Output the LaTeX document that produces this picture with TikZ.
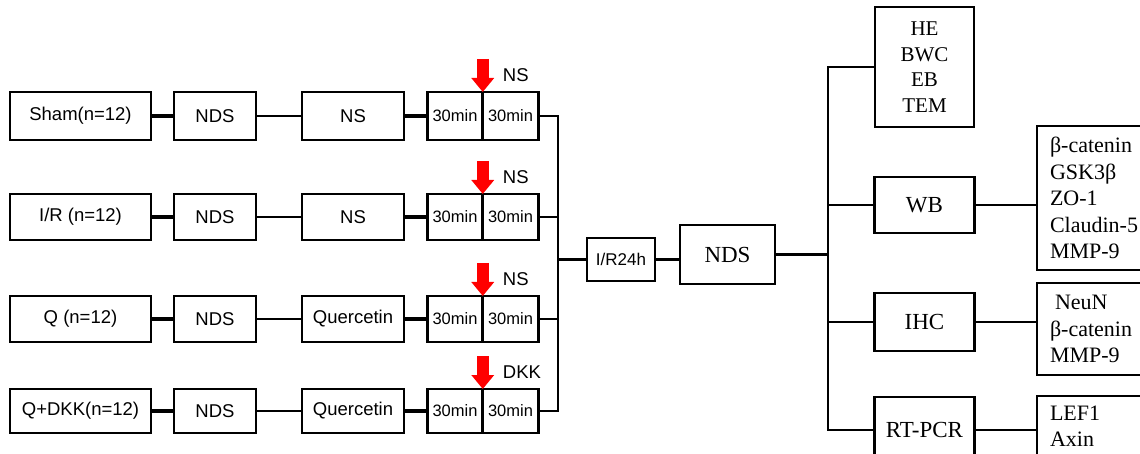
\documentclass[tikz,border=0pt]{standalone}
\usepackage{fontspec}
\setmainfont{Liberation Serif}
\setsansfont{Liberation Sans}
\usetikzlibrary{positioning,arrows.meta}
\begin{document}
\begin{tikzpicture}
      [x=1pt,y=-1pt,
       box/.style={draw,line width=2.6pt,outer sep=0pt,inner sep=0pt,align=center},
       lbl/.style={font=\sffamily\fontsize{18.5}{21}\selectfont},
       half/.style={box,minimum width=55.5pt,font=\sffamily\fontsize{16.5}{19}\selectfont},
       res/.style={box,minimum width=100pt,font=\fontsize{23}{26}\selectfont},
       sub/.style={box,anchor=north west,align=left,text width=100pt,inner xsep=13pt,
         font=\fontsize{22}{26.5}\selectfont},
       wide/.style={line width=3.3pt},
       slim/.style={line width=1.8pt},
       link/.style={line width=2.3pt},
       inj/.style={red,line width=12pt,-{Triangle[width=22pt,length=14pt]}}]
      \useasboundingbox (0,0) rectangle (1140,454);
      \foreach \r/\y/\h/\g/\d/\i in {1/116/48/{Sham(n=12)}/NS/NS,
        2/217/46/{I/R (n=12)}/NS/NS, 3/319/46/{Q (n=12)}/Quercetin/NS,
        4/411/44/{Q+DKK(n=12)}/Quercetin/DKK} {
        \node[box,lbl,minimum width=141pt,minimum height=\h pt] (g\r) at (80.5,\y) {\g};
        \node[box,lbl,minimum width=82pt,minimum height=\h pt] (n\r) at (215,\y) {NDS};
        \node[box,lbl,minimum width=102pt,minimum height=\h pt] (d\r) at (353,\y) {\d};
        \node[half,minimum height=\h pt] (tl\r) at (455,\y) {30min};
        \node[half,minimum height=\h pt,right=0pt of tl\r] (tr\r) {30min};
        \coordinate (b\r) at (558,\y);
        \draw[wide] (g\r) -- (n\r);
        \draw[slim] (n\r) -- (d\r);
        \draw[wide] (d\r) -- (tl\r);
        \draw[inj] ([yshift=33pt]tl\r.north east) -- (tl\r.north east);
        \node[lbl,inner sep=0pt,anchor=west] (a\r) at ([xshift=20pt,yshift=17pt]tl\r.north east) {\i};
      }
      \draw[link] (tr1) -- (b1) -- (b4) -- (tr4);
      \draw[link] (tr2) -- (b2);
      \draw[link] (tr3) -- (b3);

      \node[box,font=\sffamily\fontsize{17}{19}\selectfont,minimum width=68pt,minimum height=43pt]
        (ir) at (621,259.5) {I/R24h};
      \node[res,minimum width=95pt,minimum height=59pt] (nd) at (727.5,254.5) {NDS};
      \coordinate (bm) at (558,259.5);
      \coordinate (br) at (828,254.5);
      \draw[link] (bm) -- (ir);
      \draw[link] (ir) -- (ir -| nd.west);
      \draw[link] (nd) -- (br);

      \node[box,minimum width=99pt,minimum height=120pt,font=\fontsize{21}{25.5}\selectfont]
        (he) at (924.5,67) {HE\\BWC\\EB\\TEM};
      \node[res,minimum height=56pt] (wb) at (924.5,205) {WB};
      \node[res,minimum height=58pt] (ihc) at (924.5,322) {IHC};
      \node[res,minimum height=66pt] (pcr) at (924.5,430) {RT-PCR};
      \draw[link] (he.west) -- (he.west -| br) -- (pcr.west -| br) -- (pcr.west);
      \draw[link] (wb) -- (wb -| br);
      \draw[link] (ihc) -- (ihc -| br);

      \node[sub,minimum height=144pt] (wbm) at (1037,126)
        {β-catenin\\GSK3β\\ZO-1\\Claudin-5\\MMP-9};
      \node[sub,minimum height=92pt] (ihcm) at (1037,283)
        {\hspace*{5pt}NeuN\\β-catenin\\MMP-9};
      \node[sub,minimum height=60pt] (pcrm) at (1037,396) {LEF1\\Axin};
      \draw[link] (wb) -- (wb -| wbm.west);
      \draw[link] (ihc) -- (ihc -| ihcm.west);
      \draw[link] (pcr) -- (pcr -| pcrm.west);
    \end{tikzpicture}
\end{document}
